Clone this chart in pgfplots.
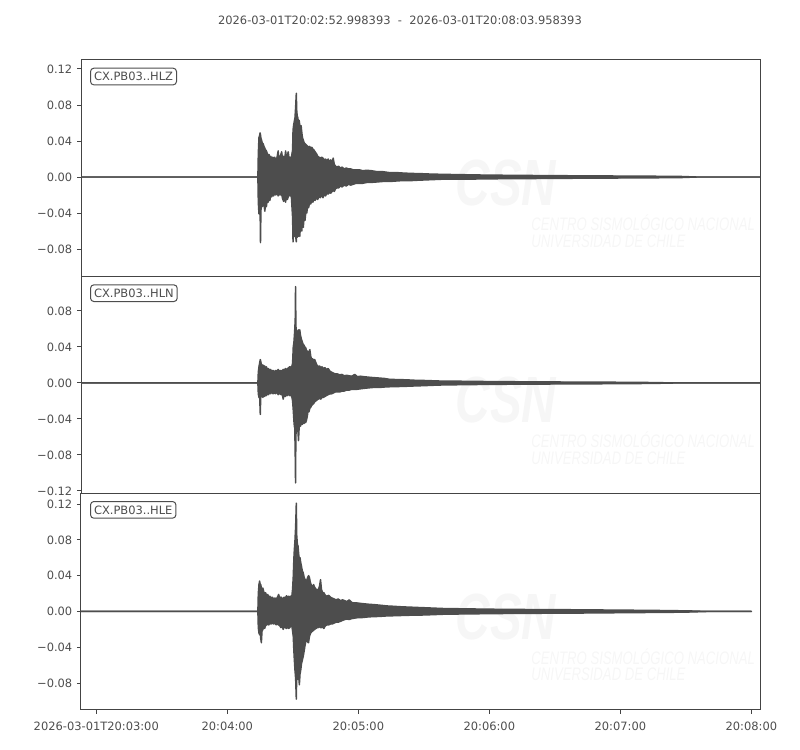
\documentclass[border=0pt]{standalone}
\usepackage{fontspec}
\setmainfont{DejaVu Sans}
\newfontfamily\wmfont{Liberation Sans}
\usepackage{pgfplots}
\usepackage{pgfplotstable}
\pgfplotsset{compat=1.18}

\definecolor{ink}{HTML}{4D4D4D}
\definecolor{spine}{HTML}{444444}
\definecolor{wm}{HTML}{F6F6F6}

% t = seconds after 20:03:00, u/l = upper/lower envelope of the trace
\pgfplotstableread{
t u l
-7.0 0 0
74.0 0 0
74.2 0.026 -0.028
74.5 0.044 -0.041
74.8 0.046 -0.036
75.0 0.049 -0.033
75.2 0.047 -0.073
75.4 0.043 -0.037
75.7 0.041 -0.030
76.0 0.038 -0.033
76.4 0.037 -0.028
76.8 0.034 -0.031
77.2 0.032 -0.038
77.5 0.030 -0.029
77.9 0.029 -0.033
78.3 0.026 -0.025
78.7 0.024 -0.028
79.1 0.025 -0.023
79.5 0.021 -0.026
79.9 0.023 -0.020
80.3 0.020 -0.022
80.8 0.022 -0.019
81.2 0.019 -0.021
81.7 0.022 -0.018
82.2 0.019 -0.020
82.7 0.021 -0.017
83.3 0.029 -0.021
83.6 0.019 -0.018
84.1 0.022 -0.020
84.9 0.028 -0.019
85.3 0.020 -0.024
85.8 0.023 -0.027
86.3 0.020 -0.021
86.7 0.029 -0.028
87.1 0.021 -0.020
87.5 0.024 -0.025
87.9 0.028 -0.022
88.3 0.020 -0.019
88.8 0.022 -0.021
89.3 0.021 -0.020
89.9 0.030 -0.045
90.1 0.052 -0.072
90.4 0.058 -0.058
90.7 0.062 -0.066
91.0 0.066 -0.058
91.3 0.078 -0.066
91.6 0.093 -0.072
91.8 0.074 -0.060
92.0 0.068 -0.067
92.3 0.066 -0.058
92.6 0.060 -0.066
92.9 0.063 -0.055
93.2 0.058 -0.066
93.5 0.056 -0.052
93.8 0.057 -0.058
94.1 0.050 -0.060
94.4 0.044 -0.050
94.8 0.041 -0.056
95.2 0.038 -0.044
95.6 0.037 -0.048
96.0 0.036 -0.038
96.4 0.035 -0.040
96.8 0.034 -0.032
97.2 0.033 -0.034
97.7 0.034 -0.029
98.2 0.032 -0.030
98.7 0.033 -0.026
99.2 0.031 -0.028
99.7 0.030 -0.024
100.2 0.028 -0.026
100.8 0.026 -0.023
101.4 0.023 -0.025
102.0 0.022 -0.021
102.6 0.021 -0.023
103.2 0.022 -0.020
103.8 0.021 -0.023
104.4 0.019 -0.019
105.0 0.020 -0.021
105.6 0.018 -0.018
106.2 0.020 -0.019
106.8 0.017 -0.017
107.4 0.019 -0.018
108.0 0.016 -0.016
108.5 0.021 -0.015
109.0 0.014 -0.016
109.6 0.012 -0.013
110.2 0.011 -0.012
111.0 0.012 -0.012
111.8 0.010 -0.010
112.6 0.011 -0.011
113.5 0.009 -0.009
114.5 0.010 -0.010
115.5 0.009 -0.008
116.5 0.009 -0.009
117.7 0.008 -0.008
119.0 0.008 -0.007
120.5 0.008 -0.007
122.0 0.007 -0.007
124.0 0.0075 -0.006
126.0 0.007 -0.006
128.5 0.006 -0.0055
131.0 0.006 -0.005
134.0 0.005 -0.005
137.0 0.005 -0.0045
140.0 0.0045 -0.004
144.0 0.004 -0.004
148.0 0.0038 -0.0035
153.0 0.0033 -0.003
158.0 0.003 -0.0025
165.0 0.0027 -0.0025
172.0 0.0024 -0.0023
180.0 0.0021 -0.002
195.0 0.0018 -0.0018
210.0 0.0015 -0.0015
225.0 0.0013 -0.0013
240.0 0.0011 -0.0011
255.0 0.0009 -0.0009
268.0 0.0006 -0.0006
275.0 0 0
303.96 0 0
}\dataZ

\pgfplotstableread{
t u l
-7.0 0 0
74.0 0 0
74.2 0.012 -0.012
74.5 0.018 -0.016
74.8 0.022 -0.014
75.1 0.026 -0.035
75.3 0.024 -0.016
75.6 0.021 -0.015
75.9 0.018 -0.013
76.3 0.020 -0.016
76.7 0.017 -0.013
77.1 0.019 -0.015
77.5 0.016 -0.012
77.9 0.018 -0.014
78.3 0.015 -0.011
78.8 0.016 -0.013
79.3 0.014 -0.011
79.8 0.015 -0.012
80.3 0.013 -0.010
80.9 0.014 -0.012
81.5 0.012 -0.011
82.1 0.014 -0.012
82.7 0.013 -0.010
83.3 0.015 -0.013
83.9 0.013 -0.011
84.5 0.014 -0.013
85.1 0.013 -0.012
85.6 0.015 -0.018
86.1 0.014 -0.013
86.6 0.016 -0.015
87.1 0.015 -0.013
87.6 0.016 -0.014
88.1 0.017 -0.012
88.6 0.018 -0.014
89.1 0.017 -0.013
89.6 0.019 -0.016
89.9 0.022 -0.020
90.2 0.040 -0.030
90.5 0.045 -0.042
90.7 0.052 -0.048
90.9 0.060 -0.050
91.1 0.070 -0.080
91.25 0.107 -0.111
91.4 0.068 -0.060
91.6 0.050 -0.050
91.8 0.045 -0.044
92.0 0.052 -0.048
92.3 0.058 -0.052
92.6 0.059 -0.064
92.9 0.056 -0.050
93.2 0.059 -0.046
93.5 0.053 -0.048
93.9 0.049 -0.045
94.3 0.046 -0.046
94.7 0.043 -0.044
95.1 0.042 -0.045
95.5 0.040 -0.043
95.9 0.039 -0.044
96.3 0.036 -0.041
96.7 0.035 -0.036
97.0 0.033 -0.030
97.4 0.035 -0.032
97.8 0.037 -0.028
98.2 0.030 -0.027
98.6 0.026 -0.025
99.0 0.027 -0.024
99.5 0.025 -0.023
100.0 0.026 -0.021
100.5 0.023 -0.020
101.0 0.020 -0.019
101.6 0.018 -0.018
102.2 0.019 -0.017
102.8 0.017 -0.018
103.4 0.018 -0.016
104.0 0.016 -0.016
104.7 0.017 -0.015
105.4 0.015 -0.014
106.2 0.016 -0.013
107.0 0.013 -0.012
107.8 0.012 -0.012
108.6 0.011 -0.011
109.5 0.010 -0.010
110.5 0.010 -0.010
111.5 0.009 -0.010
112.5 0.0095 -0.009
113.5 0.008 -0.009
114.6 0.0085 -0.008
115.8 0.008 -0.008
117.0 0.0075 -0.007
118.4 0.0095 -0.007
119.5 0.007 -0.007
121.0 0.0075 -0.0065
122.5 0.007 -0.006
124.5 0.0065 -0.0055
126.8 0.006 -0.005
129.5 0.0055 -0.005
132.0 0.005 -0.0045
134.5 0.004 -0.0042
138.0 0.0038 -0.004
142.0 0.0035 -0.0037
146.0 0.003 -0.0033
150.0 0.0028 -0.003
157.0 0.0022 -0.0023
165.0 0.002 -0.002
175.0 0.0017 -0.0017
190.0 0.0014 -0.0014
205.0 0.0012 -0.0012
220.0 0.001 -0.001
240.0 0.0008 -0.0008
255.0 0.0005 -0.0005
265.0 0 0
303.96 0 0
}\dataN

\pgfplotstableread{
t u l
-7.0 0 0
74.0 0 0
74.2 0.020 -0.018
74.5 0.030 -0.024
74.8 0.034 -0.026
75.0 0.031 -0.022
75.3 0.030 -0.030
75.6 0.027 -0.035
75.9 0.024 -0.022
76.3 0.026 -0.020
76.7 0.022 -0.017
77.1 0.020 -0.019
77.5 0.021 -0.016
78.0 0.018 -0.015
78.5 0.019 -0.014
79.0 0.016 -0.015
79.5 0.017 -0.013
80.0 0.015 -0.014
80.6 0.016 -0.013
81.2 0.014 -0.014
81.8 0.015 -0.013
82.4 0.014 -0.015
83.0 0.016 -0.014
83.5 0.019 -0.015
84.0 0.015 -0.016
84.6 0.016 -0.018
85.1 0.014 -0.016
85.6 0.015 -0.020
86.1 0.016 -0.017
86.6 0.015 -0.018
87.1 0.0175 -0.019
87.6 0.016 -0.017
88.1 0.017 -0.019
88.6 0.016 -0.018
89.1 0.017 -0.016
89.6 0.018 -0.017
89.9 0.025 -0.022
90.2 0.039 -0.028
90.5 0.060 -0.045
90.7 0.069 -0.054
91.0 0.080 -0.066
91.3 0.095 -0.075
91.6 0.121 -0.098
91.8 0.085 -0.070
92.1 0.075 -0.069
92.4 0.073 -0.076
92.7 0.064 -0.072
93.0 0.058 -0.082
93.3 0.060 -0.070
93.6 0.055 -0.066
94.0 0.050 -0.058
94.4 0.045 -0.054
94.8 0.043 -0.050
95.2 0.038 -0.044
95.6 0.036 -0.038
96.0 0.034 -0.033
96.4 0.035 -0.031
96.8 0.038 -0.034
97.2 0.040 -0.035
97.6 0.038 -0.028
98.0 0.033 -0.025
98.5 0.029 -0.023
99.0 0.028 -0.022
99.5 0.030 -0.021
100.0 0.027 -0.020
100.6 0.025 -0.019
101.1 0.024 -0.018
101.6 0.024 -0.018
102.2 0.028 -0.017
102.7 0.0355 -0.018
103.1 0.025 -0.018
103.6 0.021 -0.017
104.2 0.021 -0.019
104.9 0.018 -0.016
105.6 0.017 -0.015
106.4 0.018 -0.015
107.2 0.016 -0.014
108.0 0.015 -0.014
108.9 0.014 -0.013
109.8 0.013 -0.012
110.8 0.014 -0.012
111.8 0.012 -0.011
112.8 0.013 -0.010
113.8 0.012 -0.009
114.8 0.011 -0.0085
115.8 0.013 -0.009
117.0 0.010 -0.008
118.2 0.0095 -0.0075
119.5 0.0095 -0.007
121.0 0.009 -0.007
123.0 0.0085 -0.0065
125.0 0.008 -0.006
127.0 0.0077 -0.0058
130.0 0.007 -0.0055
133.0 0.0062 -0.005
136.0 0.0058 -0.0048
140.0 0.0052 -0.0045
144.0 0.0048 -0.0042
149.0 0.0043 -0.004
154.0 0.0038 -0.0036
160.0 0.0032 -0.003
168.0 0.003 -0.0028
178.0 0.0026 -0.0025
190.0 0.0023 -0.0022
205.0 0.0021 -0.0020
220.0 0.0019 -0.0018
235.0 0.0016 -0.0015
250.0 0.0013 -0.0012
262.0 0.001 -0.001
272.0 0.0006 -0.0006
280.0 0 0
300.0 0 0
}\dataE

\pgfplotsset{
  seis/.style={
    scale only axis, width=509.25pt, height=162.5pt,
    anchor=south west,
    xmin=-7.0016, xmax=303.958,
    axis line style={spine, line width=0.75pt},
    every tick/.style={spine, line width=0.75pt},
    tick align=outside, major tick length=3pt,
    ytick pos=left, xtick pos=bottom,
    tick label style={font=\fontsize{8.6}{10}\selectfont, text=ink},
    xticklabel style={yshift=-2.2pt},
  },
  wave/.style={draw=ink, fill=ink, line width=1.1pt, line join=round},
}

\newcommand{\tracelabel}[1]{%
  \node[anchor=north west, draw=ink, fill=white, rounded corners=2.5pt, line width=0.75pt,
        inner xsep=2.6pt, inner ysep=3pt, text=ink, font=\fontsize{8.6}{10}\selectfont]
    at (rel axis cs:0.0133,0.9645) {#1};
}

\begin{document}
\begin{tikzpicture}

% faint watermark behind each panel (drawn first so the traces sit on top)
\foreach \yb in {355,192.5,30} {
  \node[text=wm, font=\wmfont\bfseries\itshape\fontsize{49}{49}\selectfont, xscale=0.73]
    at (379.5pt,\yb pt+70pt) {CSN};
  \node[text=wm, anchor=west, inner sep=0pt, font=\wmfont\itshape\fontsize{13.6}{14}\selectfont, xscale=0.725]
    at (398.4pt,\yb pt+40.1pt) {CENTRO SISMOLÓGICO NACIONAL};
  \node[text=wm, anchor=west, inner sep=0pt, font=\wmfont\itshape\fontsize{13.6}{14}\selectfont, xscale=0.725]
    at (398.4pt,\yb pt+26.65pt) {UNIVERSIDAD DE CHILE};
}

\node[text=ink, font=\fontsize{8.6}{10}\selectfont] at (300pt,547.5pt)
  {2026-03-01T20:02:52.998393\ \ -\ \ 2026-03-01T20:08:03.958393};

% HLZ
\begin{axis}[seis, at={(60.75pt,355pt)},
    ymin=-0.1107, ymax=0.13,
    xtick=\empty,
    ytick={-0.08,-0.04,0,0.04,0.08,0.12},
    yticklabels={−0.08,−0.04,0.00,0.04,0.08,0.12}]
\addplot[wave] table[x=t, y=u] {\dataZ} \closedcycle;
\addplot[wave] table[x=t, y=l] {\dataZ} \closedcycle;
\tracelabel{CX.PB03..HLZ}
\end{axis}

% HLN
\begin{axis}[seis, at={(60.75pt,192.5pt)},
    ymin=-0.1226, ymax=0.1181,
    xtick=\empty,
    ytick={-0.12,-0.08,-0.04,0,0.04,0.08},
    yticklabels={−0.12,−0.08,−0.04,0.00,0.04,0.08}]
\addplot[wave] table[x=t, y=u] {\dataN} \closedcycle;
\addplot[wave] table[x=t, y=l] {\dataN} \closedcycle;
\tracelabel{CX.PB03..HLN}
\end{axis}

% HLE
\begin{axis}[seis, at={(60.75pt,30pt)},
    ymin=-0.1101, ymax=0.132,
    xtick={0,60,120,180,240,300},
    xticklabels={2026-03-01T20:03:00,20:04:00,20:05:00,20:06:00,20:07:00,20:08:00},
    ytick={-0.08,-0.04,0,0.04,0.08,0.12},
    yticklabels={−0.08,−0.04,0.00,0.04,0.08,0.12}]
\addplot[wave] table[x=t, y=u] {\dataE} \closedcycle;
\addplot[wave] table[x=t, y=l] {\dataE} \closedcycle;
\tracelabel{CX.PB03..HLE}
\end{axis}

\pgfresetboundingbox
\path[use as bounding box] (0,0) rectangle (600pt,562.5pt);
\end{tikzpicture}
\end{document}
